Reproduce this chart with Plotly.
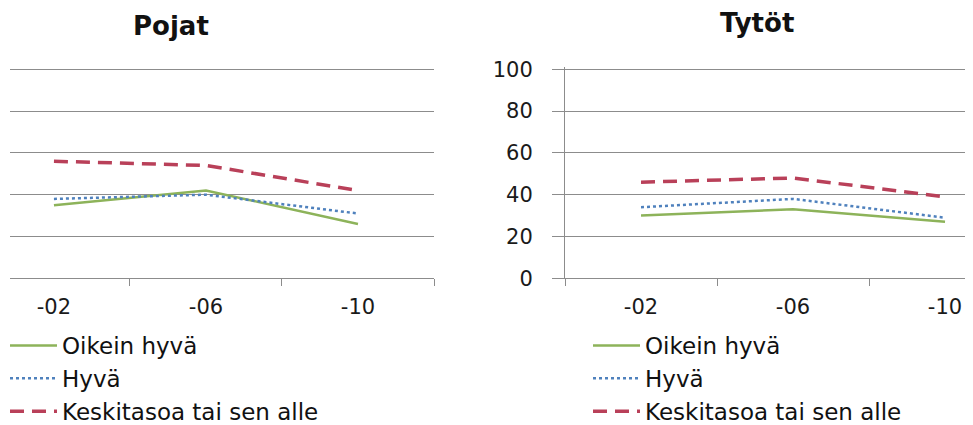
import plotly.graph_objects as go

years = ["-02", "-06", "-10"]
series_names = ["Oikein hyvä", "Hyvä", "Keskitasoa tai sen alle"]
pojat_oikein_hyva = [35, 42, 26]
pojat_hyva = [38, 40, 31]
pojat_keskitaso = [56, 54, 42]
tytot_oikein_hyva = [30, 33, 27]
tytot_hyva = [34, 38, 29]
tytot_keskitaso = [46, 48, 39]
y_ticks = [0, 20, 40, 60, 80, 100]

# page has an 8px body margin; figure fills the rest of the 973x425 window
OFF = 8
W, H = 973 - OFF, 425 - OFF


def fx(px):
    return (px - OFF) / W


def fy(py):
    return 1 - (py - OFF) / H


styles = [
    dict(color="#8db35a", width=2.5, dash="solid"),
    dict(color="#4f81bd", width=2.5, dash="dot"),
    dict(color="#b94059", width=3.5, dash="14px,8px"),
]

fig = go.Figure()
panels = [
    ("x", "y", "legend", [pojat_oikein_hyva, pojat_hyva, pojat_keskitaso]),
    ("x2", "y2", "legend2", [tytot_oikein_hyva, tytot_hyva, tytot_keskitaso]),
]
for xa, ya, lg, data in panels:
    for name, vals, st in zip(series_names, data, styles):
        fig.add_trace(go.Scatter(
            x=years, y=vals, name=name, mode="lines", line=st,
            xaxis=xa, yaxis=ya, legend=lg, hoverinfo="skip",
        ))

grid = "#8c8c8c"
tickfont = dict(family="DejaVu Sans", size=21, color="#1a1a1a")
# 0 at page y 278.3, 100 at 69.3 -> 2.09 px/unit; extend range to 101 so the 100 gridline shows
ytop = 69.3 - 2.09
ydom = [fy(278.3), fy(ytop)]
yrange = [0, 101]

common_x = dict(
    type="category", tickson="boundaries", ticks="outside", ticklen=7,
    tickcolor=grid, showline=True, linecolor=grid, linewidth=1,
    showgrid=False, tickfont=tickfont, ticklabelstandoff=9, fixedrange=True,
)
legend_font = dict(family="DejaVu Sans", size=23, color="#111")
fig.update_layout(
    width=W, height=H,
    margin=dict(l=0, r=0, t=0, b=0, autoexpand=False),
    paper_bgcolor="white", plot_bgcolor="white",
    xaxis=dict(common_x, domain=[fx(10), fx(434)], range=[-0.289, 2.5], anchor="y"),
    xaxis2=dict(common_x, domain=[fx(565), 1.0], range=[-0.5, 2.184], anchor="y2"),
    yaxis=dict(domain=ydom, range=yrange, tickvals=y_ticks, showgrid=True,
               gridcolor=grid, gridwidth=1, showticklabels=False, ticks="",
               showline=False, zeroline=False, anchor="x", fixedrange=True),
    yaxis2=dict(domain=ydom, range=yrange, tickvals=y_ticks, showgrid=True,
                gridcolor=grid, gridwidth=1, showticklabels=True, ticks="outside",
                ticklen=12, tickcolor=grid, showline=True, linecolor=grid,
                zeroline=False, tickfont=tickfont, ticklabelstandoff=15,
                anchor="x2", fixedrange=True),
    legend=dict(x=fx(5), y=fy(324), xanchor="left", yanchor="top",
                font=legend_font, itemwidth=47, bgcolor="rgba(0,0,0,0)",
                traceorder="normal"),
    legend2=dict(x=fx(588), y=fy(324), xanchor="left", yanchor="top",
                 font=legend_font, itemwidth=47, bgcolor="rgba(0,0,0,0)",
                 traceorder="normal"),
    annotations=[
        dict(text="<b>Pojat</b>", x=fx(171), y=fy(26), xref="paper", yref="paper",
             showarrow=False, xanchor="center", yanchor="middle",
             font=dict(family="DejaVu Sans", size=26, color="#111")),
        dict(text="<b>Tytöt</b>", x=fx(757), y=fy(23), xref="paper", yref="paper",
             showarrow=False, xanchor="center", yanchor="middle",
             font=dict(family="DejaVu Sans", size=26, color="#111")),
    ],
)

fig.write_html("out.html")
